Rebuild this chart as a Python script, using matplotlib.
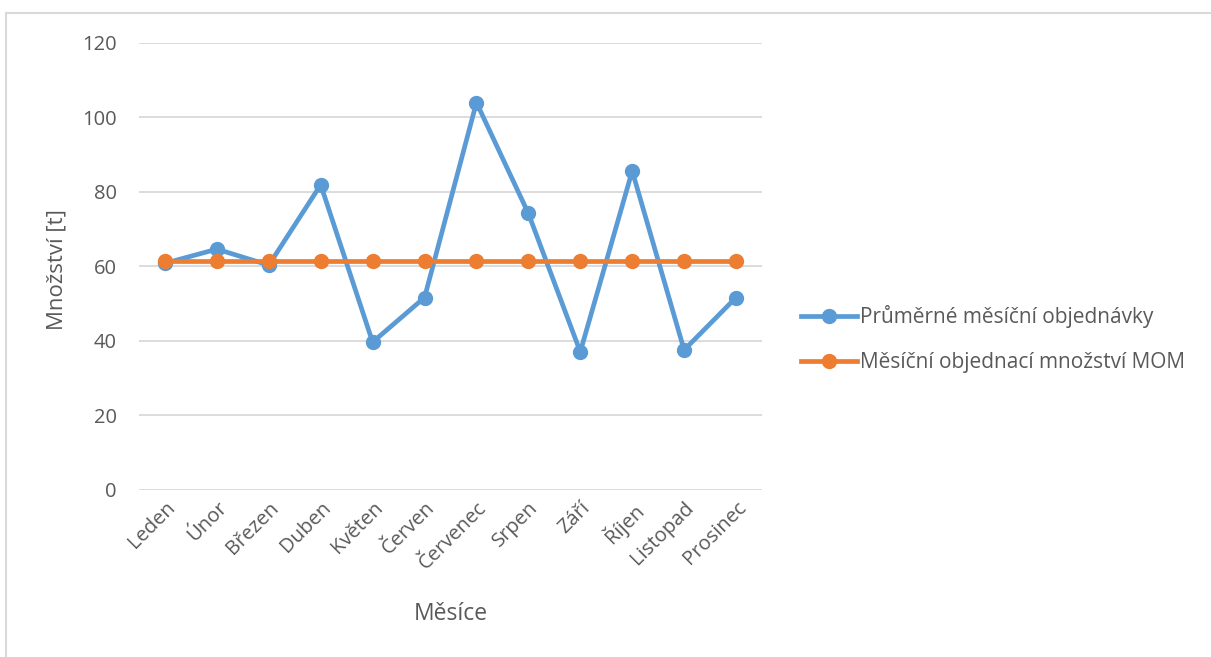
import matplotlib
matplotlib.use("Agg")
import matplotlib.pyplot as plt
from matplotlib.lines import Line2D

plt.rcParams['font.family'] = ['Open Sans', 'DejaVu Sans']

months = ["Leden", "Únor", "Březen", "Duben", "Květen", "Červen",
          "Červenec", "Srpen", "Září", "Říjen", "Listopad", "Prosinec"]
avg_orders = [60.8, 64.6, 60.3, 81.9, 39.6, 51.6, 104.0, 74.2, 37.0, 85.6, 37.5, 51.6]
mom = [61.4] * 12
yticks = [0, 20, 40, 60, 80, 100, 120]

label_avg = "Průměrné měsíční objednávky"
label_mom = "Měsíční objednací množství MOM"
ylabel = "Množství [t]"
xlabel = "Měsíce"

blue = "#5B9BD5"
orange = "#ED7D31"
text_col = "#595959"
grid_col = "#D9D9D9"

W, H = 1211, 657
fig = plt.figure(figsize=(W / 100, H / 100), dpi=100)

# outer chart frame
fig.add_artist(Line2D([6 / W, 6 / W], [0, 1 - 13 / H], transform=fig.transFigure,
                      color="#D9D9D9", lw=1.5))
fig.add_artist(Line2D([6 / W, 1], [1 - 13 / H, 1 - 13 / H], transform=fig.transFigure,
                      color="#D9D9D9", lw=1.5))

left, right = 139 / W, 762 / W
bottom, top = 1 - 489.5 / H, 1 - 43 / H
ax = fig.add_axes([left, bottom, right - left, top - bottom])

x = list(range(len(months)))
ax.plot(x, avg_orders, color=blue, lw=3.4, marker="o", markersize=10,
        solid_joinstyle="round", zorder=3)
ax.plot(x, mom, color=orange, lw=3.4, marker="o", markersize=10, zorder=4)

ax.set_xlim(-0.5, len(months) - 0.5)
ax.set_ylim(0, 120)
ax.set_yticks(yticks)
ax.yaxis.grid(True, color=grid_col, lw=1.3)
ax.set_axisbelow(True)
for s in ax.spines.values():
    s.set_visible(False)
ax.tick_params(axis="y", length=0, pad=16, labelsize=14.5, labelcolor=text_col)
ax.tick_params(axis="x", length=0, pad=6, labelsize=14.5, labelcolor=text_col)
ax.set_xticks(x)
ax.set_xticklabels(months, rotation=45, ha="right", rotation_mode="anchor")

fig.text(57 / W, 1 - 270 / H, ylabel, rotation=90, ha="center", va="center",
         fontsize=16, color=text_col)
fig.text(451 / W, 1 - 614 / H, xlabel, ha="center", va="center",
         fontsize=16.5, color=text_col)

handles = [Line2D([], [], color=blue, lw=3.4, marker="o", markersize=10),
           Line2D([], [], color=orange, lw=3.4, marker="o", markersize=10)]
fig.legend(handles, [label_avg, label_mom], loc="center left",
           bbox_to_anchor=(801 / W, 1 - 339 / H), frameon=False,
           fontsize=15, labelcolor=text_col, handlelength=2.7,
           handletextpad=0.15, labelspacing=1.15, borderaxespad=0, borderpad=0)

fig.savefig("out.png", dpi=100, facecolor="white")
